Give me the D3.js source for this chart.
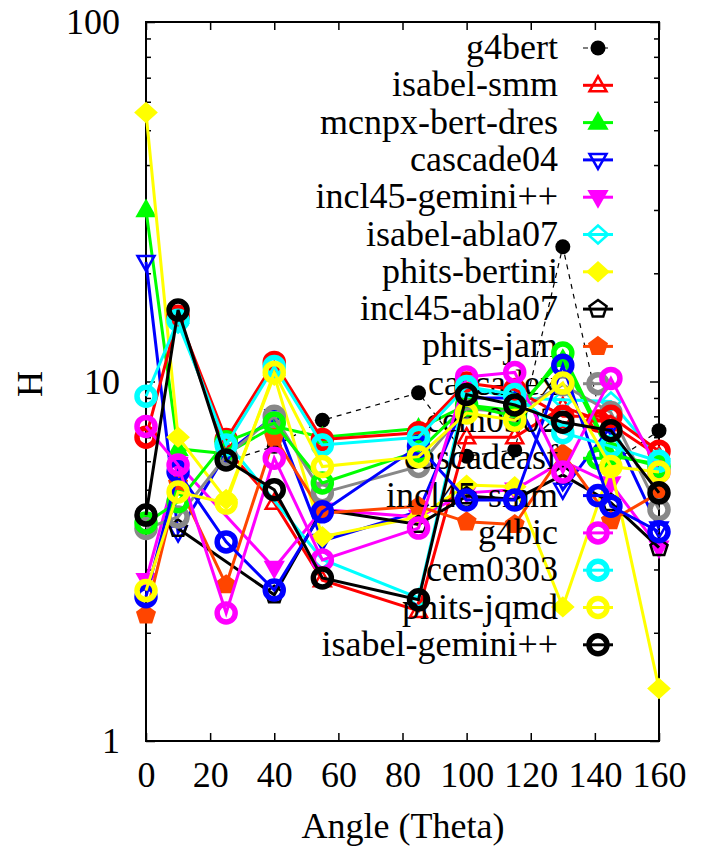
<!DOCTYPE html>
<html>
<head>
<meta charset="utf-8">
<script src="https://cdn.jsdelivr.net/npm/d3@7"></script>
<style>
body { margin: 0; background: white; }
text { font-family: "Liberation Serif", "Times New Roman", serif; fill: black; }
</style>
</head>
<body>
<svg></svg>
<script>
var w = 710;
var h = 852;

// angles of the measurements (degrees)
var angles = [0, 10, 25, 40, 55, 85, 100, 115, 130, 145, 160];

// H per angle, one array per code (null = not given)
var g4bert         = [null, null, 6.0, 6.6, 7.8, 9.3, 6.2, 6.45, 23.7, 5.9, 7.3];
var isabelSmm      = [null, 15.0, 6.5, 4.6, 2.8, 2.3, 7.0, 7.0, 8.5, 7.6, 6.2];
var mcnpxBertDres  = [30, 6.5, 6.3, 7.5, 7.0, 7.4, 8.6, 8.3, 11.5, 6.2, 5.9];
var cascade04      = [21.5, 3.8, 6.3, 8.0, 3.6, 4.35, 9.0, 9.0, 5.0, 7.5, 3.9];
var incl45Gemini   = [2.8, 5.9, null, 3.03, 4.4, 4.2, 4.9, 5.0, 6.0, 5.2, 3.45];
var isabelAbla07   = [null, 14.5, 6.8, null, 3.2, 2.5, 9.6, 9.0, 8.9, 8.8, 6.1];
var phitsBertini   = [56, 7.0, 4.7, 10.4, 3.7, 4.2, 5.15, 5.1, 2.36, 5.8, 1.4];
var incl45Abla07   = [null, 3.9, null, 2.55, 4.4, 4.0, 4.8, 4.7, 5.5, 4.6, 3.45];
var phitsJam       = [2.24, 5.2, 2.72, 7.0, 4.3, 4.5, 4.07, 4.0, 6.3, 4.1, 4.9];
var cascadex       = [3.9, 4.2, 6.2, 8.0, 4.9, 5.8, 8.4, 8.2, 9.8, 8.2, 4.4];
var cem0302        = [7.0, 15.2, 6.9, 11.3, 6.9, 7.2, 9.9, 9.5, 8.0, 8.0, 6.4];
var cascadeasf     = [4.04, 4.63, 6.8, 7.66, 5.22, 6.4, 8.6, 8.0, 12.0, 6.3, 5.8];
var incl45Smm      = [2.52, 5.61, 3.58, 2.63, 4.34, 6.6, 4.68, 4.68, 11.1, 4.5, 3.82];
var g4bic          = [7.5, 5.86, 2.27, 6.12, 3.19, 3.91, 10.3, 10.6, 5.6, 10.2, 5.6];
var cem0303        = [9.1, 14.8, 6.66, 11.0, 6.66, 7.0, 9.68, 9.2, 7.2, 6.6, 6.0];
var phitsJqmd      = [2.62, 4.93, 4.59, 10.6, 5.8, 6.18, 8.17, 7.8, 9.9, 5.8, 5.6];
var isabelGemini   = [4.25, 15.8, 6.05, 5.0, 2.84, 2.47, 9.2, 8.6, 7.7, 7.3, 4.9];

var xTicks = [0, 20, 40, 60, 80, 100, 120, 140, 160];
var yTicks = [1, 10, 100];

var series = [
	{ name: "g4bert", values: g4bert, color: "black", mark: "dot", dash: true },
	{ name: "isabel-smm", values: isabelSmm, color: "#ff0000", mark: "triUp", fill: false },
	{ name: "mcnpx-bert-dres", values: mcnpxBertDres, color: "#00ff00", mark: "triUp", fill: true },
	{ name: "cascade04", values: cascade04, color: "#0000ff", mark: "triDown", fill: false },
	{ name: "incl45-gemini++", values: incl45Gemini, color: "#ff00ff", mark: "triDown", fill: true },
	{ name: "isabel-abla07", values: isabelAbla07, color: "#00ffff", mark: "diamond", fill: false },
	{ name: "phits-bertini", values: phitsBertini, color: "#ffff00", mark: "diamond", fill: true },
	{ name: "incl45-abla07", values: incl45Abla07, color: "black", mark: "pentagon", fill: false },
	{ name: "phits-jam", values: phitsJam, color: "#ff4500", mark: "pentagon", fill: true },
	{ name: "cascadex", values: cascadex, color: "#888888", mark: "ring" },
	{ name: "cem0302", values: cem0302, color: "#ff0000", mark: "ring" },
	{ name: "cascadeasf", values: cascadeasf, color: "#00ff00", mark: "ring" },
	{ name: "incl45-smm", values: incl45Smm, color: "#0000ff", mark: "ring" },
	{ name: "g4bic", values: g4bic, color: "#ff00ff", mark: "ring" },
	{ name: "cem0303", values: cem0303, color: "#00ffff", mark: "ring" },
	{ name: "phits-jqmd", values: phitsJqmd, color: "#ffff00", mark: "ring" },
	{ name: "isabel-gemini++", values: isabelGemini, color: "black", mark: "ring" }
];

var plotL = 146, plotR = 659, plotT = 22, plotB = 741;
var fontSize = "36px";

var svg = d3.select("svg")
	.attr("width", w)
	.attr("height", h)
	.style("background-color", "white");

var x = d3.scaleLinear().domain([0, 160]).range([plotL, plotR]);
var y = d3.scaleLog().domain([1, 100]).range([plotB, plotT]);

// frame + ticks
var minor = [];
for (var d = 1; d < 100; d *= 10) {
	for (var k = 2; k < 10; k++) minor.push(k * d);
}

function noDomain(g) { g.select(".domain").remove(); }

svg.append("g")
	.attr("transform", "translate(0," + plotB + ")")
	.call(d3.axisBottom(x).tickValues(xTicks).tickSize(-8).tickPadding(20).tickFormat(d3.format("d")))
	.call(noDomain);
svg.append("g")
	.attr("transform", "translate(0," + plotT + ")")
	.call(d3.axisTop(x).tickValues(xTicks).tickSize(-8).tickFormat(""))
	.call(noDomain);
svg.append("g")
	.attr("transform", "translate(" + plotL + ",0)")
	.call(d3.axisLeft(y).tickValues(yTicks).tickSize(-9).tickPadding(26).tickFormat(d3.format("d")))
	.call(noDomain);
svg.append("g")
	.attr("transform", "translate(" + plotL + ",0)")
	.call(d3.axisLeft(y).tickValues(minor).tickSize(-5).tickFormat(""))
	.call(noDomain);
svg.append("g")
	.attr("transform", "translate(" + plotR + ",0)")
	.call(d3.axisRight(y).tickValues(yTicks).tickSize(-9).tickFormat(""))
	.call(noDomain);
svg.append("g")
	.attr("transform", "translate(" + plotR + ",0)")
	.call(d3.axisRight(y).tickValues(minor).tickSize(-5).tickFormat(""))
	.call(noDomain);

svg.selectAll(".tick line").attr("stroke", "black").attr("stroke-width", 1.5);
svg.selectAll(".tick text")
	.style("font-family", "Liberation Serif, serif")
	.style("font-size", fontSize)
	.attr("fill", "black");

svg.append("rect")
	.attr("x", plotL).attr("y", plotT)
	.attr("width", plotR - plotL).attr("height", plotB - plotT)
	.attr("fill", "none").attr("stroke", "black").attr("stroke-width", 2);

svg.append("text")
	.attr("x", 403).attr("y", 838)
	.attr("text-anchor", "middle")
	.style("font-size", fontSize)
	.text("Angle (Theta)");
svg.append("text")
	.attr("transform", "translate(42,384) rotate(-90)")
	.attr("text-anchor", "middle")
	.style("font-size", fontSize)
	.text("H");

// marker paths
function markPath(type) {
	switch (type) {
		case "triUp":
			return "M0,-9L8.5,6L-8.5,6Z";
		case "triDown":
			return "M0,9L8.5,-6L-8.5,-6Z";
		case "diamond":
			return "M0,-9L10,0L0,9L-10,0Z";
		case "pentagon":
			var p = d3.path();
			for (var i = 0; i < 5; i++) {
				var a = -Math.PI / 2 + i * 2 * Math.PI / 5;
				if (i == 0) p.moveTo(9 * Math.cos(a), 9 * Math.sin(a));
				else p.lineTo(9 * Math.cos(a), 9 * Math.sin(a));
			}
			p.closePath();
			return p.toString();
	}
}

function drawMark(g, s, cx, cy) {
	if (s.mark == "dot") {
		g.append("circle").attr("cx", cx).attr("cy", cy).attr("r", 7.5).attr("fill", s.color);
	} else if (s.mark == "ring") {
		g.append("circle").attr("cx", cx).attr("cy", cy).attr("r", 9)
			.attr("fill", "none").attr("stroke", s.color).attr("stroke-width", 5.5);
	} else {
		g.append("path").attr("d", markPath(s.mark))
			.attr("transform", "translate(" + cx + "," + cy + ")")
			.attr("fill", s.fill ? s.color : "none")
			.attr("stroke", s.color).attr("stroke-width", 2.5)
			.attr("stroke-linejoin", "miter");
	}
}

var line = d3.line()
	.x(function (d) { return x(d.a); })
	.y(function (d) { return y(d.v); });

var keyTextX = 558, keyLine = [583, 613], keyTop = 48, keyStep = 37.3;

series.forEach(function (s, i) {
	var g = svg.append("g");
	var ky = keyTop + keyStep * i;
	g.append("text")
		.attr("x", keyTextX).attr("y", ky + 11)
		.attr("text-anchor", "end")
		.style("font-size", fontSize)
		.text(s.name);
	g.append("line")
		.attr("x1", keyLine[0]).attr("x2", keyLine[1])
		.attr("y1", ky).attr("y2", ky)
		.attr("stroke", s.color)
		.attr("stroke-width", s.dash ? 1.2 : 3)
		.attr("stroke-dasharray", s.dash ? "5,5" : null);
	drawMark(g, s, (keyLine[0] + keyLine[1]) / 2, ky);

	var kept = angles.map(function (a, j) { return { a: a, v: s.values[j] }; })
		.filter(function (d) { return d.v != null; });
	g.append("path")
		.datum(kept)
		.attr("d", line)
		.attr("fill", "none")
		.attr("stroke", s.color)
		.attr("stroke-width", s.dash ? 1.2 : 3)
		.attr("stroke-dasharray", s.dash ? "5,5" : null);
	kept.forEach(function (d) { drawMark(g, s, x(d.a), y(d.v)); });
});
</script>
</body>
</html>
